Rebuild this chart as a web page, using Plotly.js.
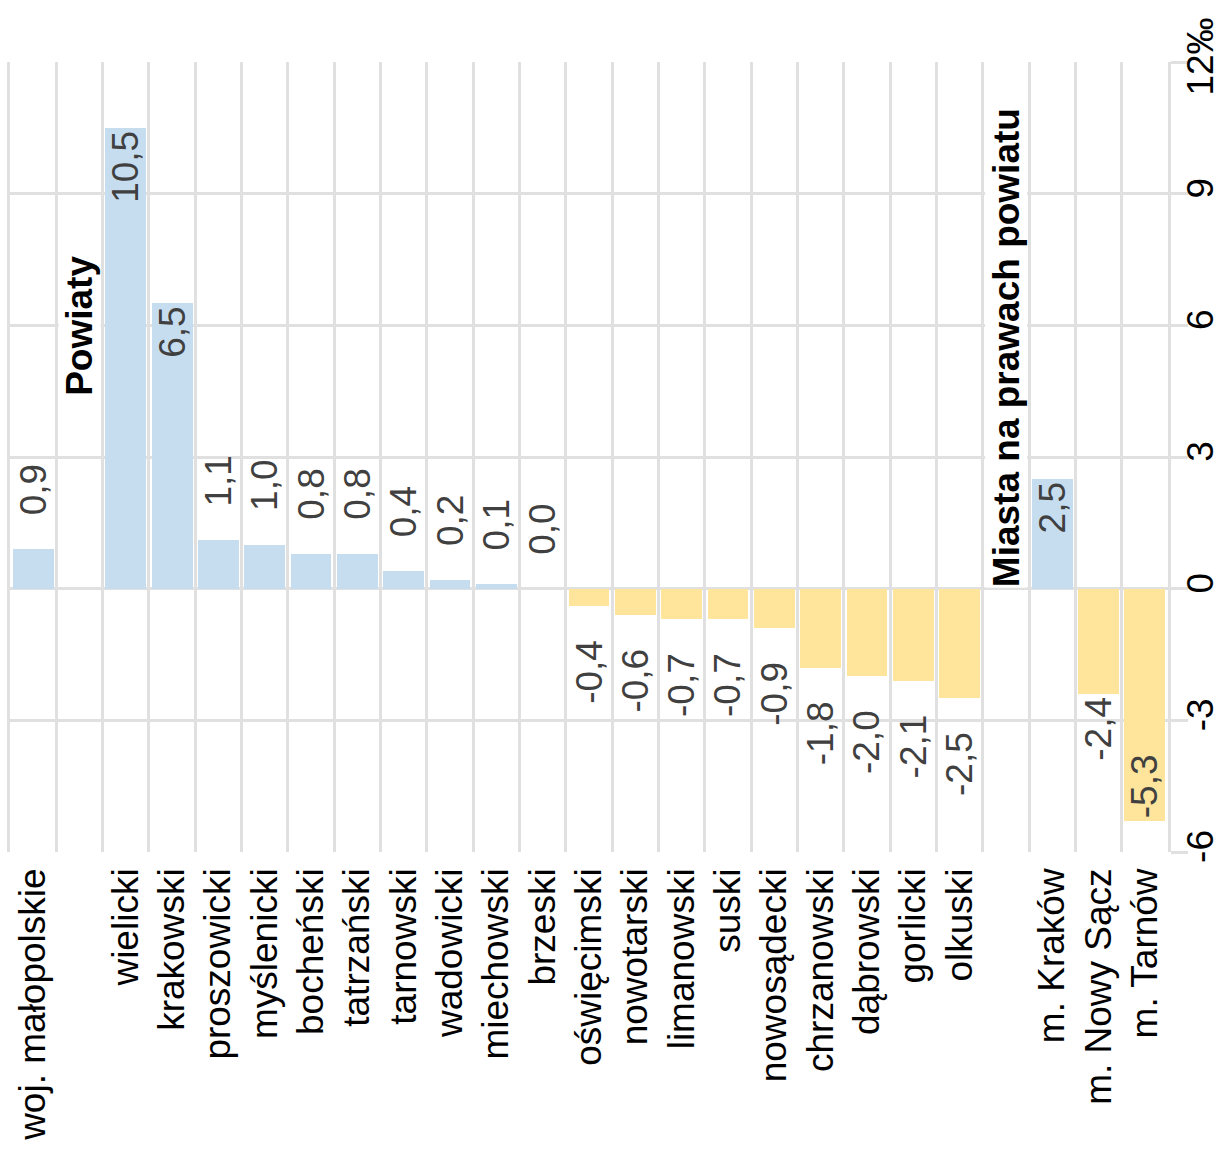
<!DOCTYPE html>
<html>
<head>
<meta charset="utf-8">
<script src="https://cdn.plot.ly/plotly-3.0.1.min.js"></script>
<style>html,body{margin:0;padding:0;background:#fff;}#chart{width:1217px;height:1155px;}</style>
</head>
<body>
<div id="chart"></div>
<script>
// ---- data ----
const categories = ['woj. małopolskie', '', 'wielicki', 'krakowski', 'proszowicki', 'myślenicki',
  'bocheński', 'tatrzański', 'tarnowski', 'wadowicki', 'miechowski', 'brzeski',
  'oświęcimski', 'nowotarski', 'limanowski', 'suski', 'nowosądecki', 'chrzanowski',
  'dąbrowski', 'gorlicki', 'olkuski', ' ', 'm. Kraków', 'm. Nowy Sącz', 'm. Tarnów'];
const values = [0.9, null, 10.5, 6.5, 1.1, 1.0,
  0.8, 0.8, 0.4, 0.2, 0.1, 0.0,
  -0.4, -0.6, -0.7, -0.7, -0.9, -1.8,
  -2.0, -2.1, -2.5, null, 2.5, -2.4, -5.3];
const yTickVals = [-6, -3, 0, 3, 6, 9, 12];
const yTickText = ['-6', '-3', '0', '3', '6', '9', '12‰'];
const groupTitles = ['Powiaty', 'Miasta na prawach powiatu'];
const insideLabels = ['wielicki', 'krakowski', 'm. Kraków', 'm. Tarnów'];
const cityLabels = ['m. Kraków', 'm. Nowy Sącz', 'm. Tarnów'];

// ---- build ----
const xs = categories.map((c, i) => i);
const NB = '\u00a0\u00a0\u00a0';
const fmt = v => v.toFixed(1).replace('.', ',');
const texts = values.map((v, i) => {
  if (v === null) return '';
  const s = fmt(v);
  const c = categories[i];
  if (insideLabels.includes(c) || cityLabels.includes(c)) return s;
  return v >= 0 ? NB + s : s + NB;
});
const positions = categories.map(c => insideLabels.includes(c) ? 'inside' : 'outside');
const colors = values.map(v => (v !== null && v < 0) ? '#fee59b' : '#c6ddf0');

const FONT = 'Liberation Sans, Arial, sans-serif';
const GRID = '#e0e0e0';

const trace = {
  type: 'bar',
  x: xs,
  y: values,
  width: 0.88,
  marker: {color: colors, line: {width: 0}},
  text: texts,
  texttemplate: '%{text}',
  textposition: positions,
  insidetextanchor: 'end',
  textangle: -90,
  constraintext: 'none',
  cliponaxis: false,
  textfont: {family: FONT, size: 37, color: '#404040'},
  insidetextfont: {family: FONT, size: 37, color: '#404040'},
  outsidetextfont: {family: FONT, size: 37, color: '#404040'},
  hoverinfo: 'skip'
};

const layout = {
  width: 1217,
  height: 1155,
  margin: {l: 10, r: 49, t: 62, b: 303},
  paper_bgcolor: '#ffffff',
  plot_bgcolor: '#ffffff',
  showlegend: false,
  bargap: 0,
  font: {family: FONT, size: 37, color: '#000'},
  xaxis: {
    range: [-0.5, categories.length - 0.5],
    tickmode: 'array',
    tickvals: xs,
    ticktext: categories,
    tickangle: -90,
    ticks: '',
    showgrid: false,
    zeroline: false,
    showline: false,
    ticklabelstandoff: 8,
    tickfont: {family: FONT, size: 37, color: '#000'},
    minor: {tick0: -0.5, dtick: 1, showgrid: true, gridcolor: GRID, gridwidth: 3, ticks: ''},
    fixedrange: true
  },
  yaxis: {
    side: 'right',
    range: [-6, 12],
    tickmode: 'array',
    tickvals: yTickVals,
    ticktext: yTickText,
    tickangle: -90,
    ticks: 'outside',
    ticklen: 17,
    tickwidth: 3,
    tickcolor: GRID,
    ticklabelstandoff: -19,
    showgrid: true,
    gridcolor: GRID,
    gridwidth: 3,
    zeroline: true,
    zerolinecolor: GRID,
    zerolinewidth: 3,
    showline: true,
    linecolor: GRID,
    linewidth: 3,
    mirror: true,
    tickfont: {family: FONT, size: 37, color: '#000'},
    fixedrange: true
  },
  annotations: [
    {x: 1, y: 6, xref: 'x', yref: 'y', text: '<b>' + groupTitles[0] + '</b>', textangle: -90,
     showarrow: false, bgcolor: '#ffffff', borderpad: 0, font: {family: FONT, size: 37, color: '#000'}},
    {x: 21, y: 5.5, xref: 'x', yref: 'y', text: '<b>' + groupTitles[1] + '</b>', textangle: -90,
     showarrow: false, bgcolor: '#ffffff', borderpad: 0, font: {family: FONT, size: 37, color: '#000'}}
  ]
};

Plotly.newPlot('chart', [trace], layout, {displayModeBar: false, staticPlot: true});
</script>
</body>
</html>
